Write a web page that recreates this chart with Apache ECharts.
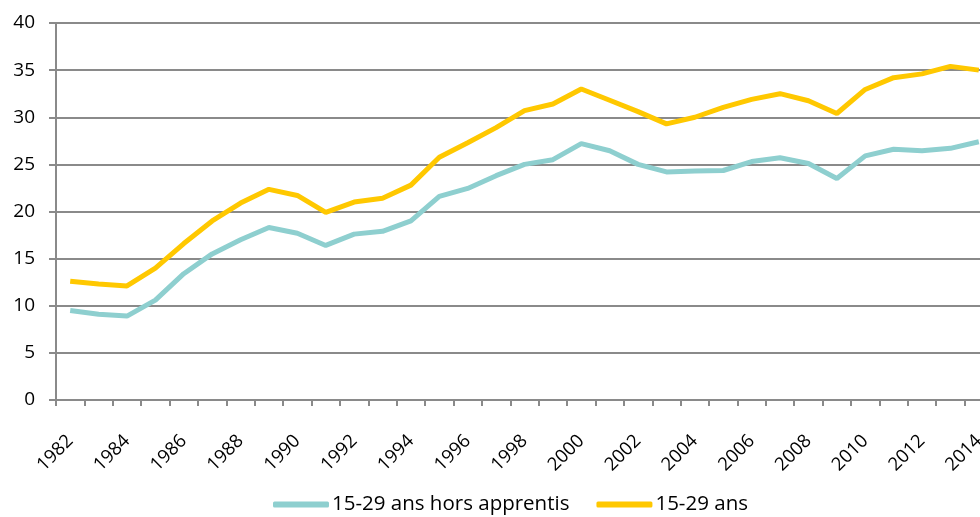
<!DOCTYPE html>
<html>
<head>
<meta charset="utf-8">
<script src="https://cdn.jsdelivr.net/npm/echarts@6/dist/echarts.min.js"></script>
<style>
  html, body { margin: 0; padding: 0; background: #fff; }
  #chart { width: 980px; height: 517px; }
</style>
</head>
<body>
<div id="chart"></div>
<script>
  var years = ['1982', '1983', '1984', '1985', '1986', '1987', '1988', '1989', '1990', '1991',
    '1992', '1993', '1994', '1995', '1996', '1997', '1998', '1999', '2000', '2001',
    '2002', '2003', '2004', '2005', '2006', '2007', '2008', '2009', '2010', '2011',
    '2012', '2013', '2014'];

  var horsApprentis = [9.5, 9.1, 8.9, 10.6, 13.4, 15.5, 17.0, 18.3, 17.7, 16.4,
    17.6, 17.9, 19.0, 21.6, 22.45, 23.8, 25.0, 25.5, 27.2, 26.45,
    25.0, 24.2, 24.3, 24.35, 25.3, 25.7, 25.1, 23.5, 25.9, 26.6,
    26.45, 26.7, 27.4];

  var ensemble = [12.6, 12.3, 12.1, 14.0, 16.6, 19.0, 20.9, 22.35, 21.7, 19.9,
    21.0, 21.4, 22.8, 25.75, 27.3, 28.9, 30.7, 31.4, 33.0, 31.8,
    30.6, 29.3, 30.0, 31.05, 31.9, 32.5, 31.75, 30.4, 32.95, 34.2,
    34.6, 35.4, 35.0];

  var seriesNames = ['15-29 ans hors apprentis', '15-29 ans'];

  var font = '"Open Sans", sans-serif';
  var gridColor = '#8a8a8a';

  var chart = echarts.init(document.getElementById('chart'));

  var option = {
    animation: false,
    color: ['#8ecfcf', '#ffc800'],
    grid: {
      left: 56,
      top: 23,
      bottom: 117,
      width: 937,
      outerBoundsMode: 'none'
    },
    legend: {
      top: 489,
      left: 268,
      icon: 'roundRect',
      itemWidth: 56,
      itemHeight: 6,
      itemGap: 27,
      textStyle: { fontFamily: font, fontSize: 20.5, color: '#000', padding: [0, 0, 0, -2] },
      data: seriesNames
    },
    xAxis: {
      type: 'category',
      data: years,
      boundaryGap: true,
      axisLine: { lineStyle: { color: gridColor, width: 2 } },
      axisTick: { show: true, interval: 0, length: 6, lineStyle: { color: gridColor, width: 2 } },
      axisLabel: {
        interval: 1,
        rotate: 45,
        margin: 38,
        fontFamily: font,
        fontSize: 18.5,
        color: '#000'
      },
      splitLine: { show: false }
    },
    yAxis: {
      type: 'value',
      min: 0,
      max: 40,
      interval: 5,
      axisLine: { show: true, lineStyle: { color: gridColor, width: 2 } },
      axisTick: { show: true, length: 7, lineStyle: { color: gridColor, width: 2 } },
      axisLabel: {
        margin: 21,
        fontFamily: font,
        fontSize: 19,
        color: '#000'
      },
      splitLine: { lineStyle: { color: gridColor, width: 2 } }
    },
    series: [
      {
        name: seriesNames[0],
        type: 'line',
        data: horsApprentis,
        symbol: 'none',
        lineStyle: { width: 5 }
      },
      {
        name: seriesNames[1],
        type: 'line',
        data: ensemble,
        symbol: 'none',
        lineStyle: { width: 5 }
      }
    ]
  };

  chart.setOption(option);
</script>
</body>
</html>
